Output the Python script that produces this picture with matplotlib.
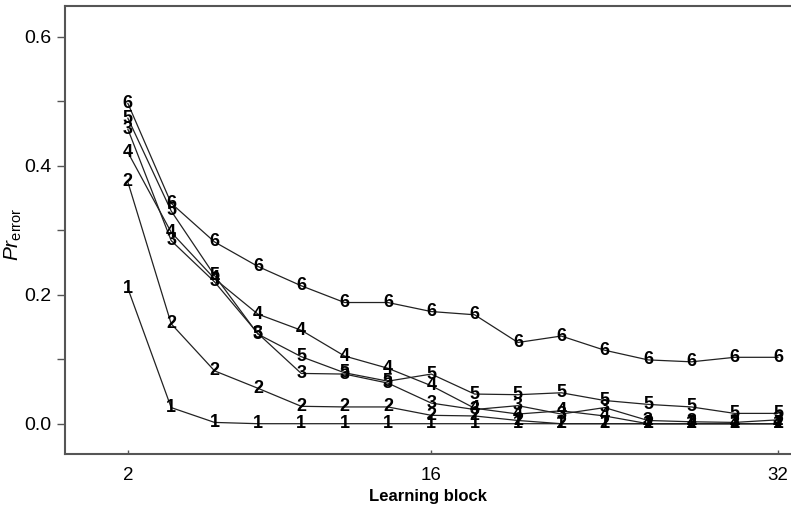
import matplotlib
matplotlib.use("Agg")
import matplotlib.pyplot as plt
from matplotlib.ticker import MultipleLocator

plt.rcParams['font.family'] = ['Liberation Sans', 'DejaVu Sans']
plt.rcParams['mathtext.fontset'] = 'custom'
plt.rcParams['mathtext.rm'] = 'Liberation Sans'
plt.rcParams['mathtext.it'] = 'Liberation Sans:italic'

blocks = [2, 4, 6, 8, 10, 12, 14, 16, 18, 20, 22, 24, 26, 28, 30, 32]
series_labels = ['1', '2', '3', '4', '5', '6']
s1 = [0.210, 0.025, 0.002, 0.0, 0.0, 0.0, 0.0, 0.0, 0.0, 0.0, 0.0, 0.0, 0.0, 0.0, 0.0, 0.0]
s2 = [0.375, 0.155, 0.082, 0.055, 0.027, 0.026, 0.026, 0.013, 0.012, 0.005, 0.0, 0.0, 0.0, 0.0, 0.0, 0.0]
s3 = [0.457, 0.284, 0.220, 0.140, 0.078, 0.077, 0.063, 0.032, 0.022, 0.028, 0.015, 0.025, 0.005, 0.003, 0.002, 0.006]
s4 = [0.421, 0.297, 0.225, 0.170, 0.145, 0.105, 0.086, 0.059, 0.024, 0.015, 0.020, 0.012, 0.0, 0.0, 0.0, 0.0]
s5 = [0.474, 0.330, 0.230, 0.139, 0.104, 0.079, 0.066, 0.077, 0.046, 0.045, 0.048, 0.036, 0.030, 0.026, 0.016, 0.016]
s6 = [0.497, 0.342, 0.282, 0.244, 0.214, 0.188, 0.188, 0.174, 0.169, 0.126, 0.136, 0.114, 0.099, 0.096, 0.103, 0.103]
all_series = [s1, s2, s3, s4, s5, s6]

fig = plt.figure(figsize=(7.91, 5.14), dpi=100)
ax = fig.add_axes([65/791, 60/514, 726/791, 448/514])

for lab, vals in zip(series_labels, all_series):
    ax.plot(blocks, vals, color='#222222', lw=0.9, zorder=2)
    for x, y in zip(blocks, vals):
        ax.text(x, y, lab, ha='center', va='center', fontsize=13,
                fontweight='bold', color='black', zorder=3)

ax.set_xlim(-0.9, 32.6)
ax.set_ylim(-0.047, 0.648)
ax.set_xticks([2, 16, 32])
ax.set_yticks([0.0, 0.2, 0.4, 0.6])
ax.set_yticklabels(['0.0', '0.2', '0.4', '0.6'])
ax.yaxis.set_minor_locator(MultipleLocator(0.1))
ax.tick_params(axis='y', which='both', direction='out', length=6, width=1,
               color='#555555', labelsize=14, pad=4)
ax.tick_params(axis='x', which='both', direction='in', length=3, width=1,
               color='#555555', labelsize=13.5, pad=9)

for side in ['left', 'top', 'bottom']:
    ax.spines[side].set_color('#555555')
    ax.spines[side].set_linewidth(1.5)
ax.spines['right'].set_visible(False)

ax.set_xlabel('Learning block', fontsize=12, fontweight='bold', labelpad=4)
ax.set_ylabel(r'$\mathit{Pr}_{\mathrm{error}}$', fontsize=15)
ax.yaxis.set_label_coords(-0.056, 0.49)

fig.savefig('out.png', dpi=100)
